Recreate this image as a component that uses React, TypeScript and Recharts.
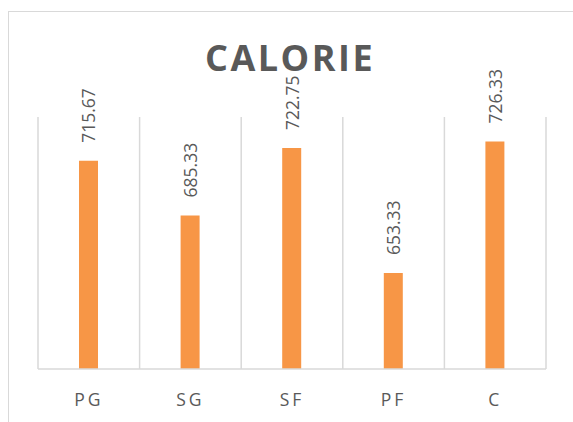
import React from 'react';
import { BarChart, Bar, XAxis, YAxis, CartesianGrid, LabelList } from 'recharts';

const positions = ['PG', 'SG', 'SF', 'PF', 'C'];
const calories = [715.67, 685.33, 722.75, 653.33, 726.33];

const data = positions.map((name, i) => ({ name, calorie: calories[i] }));

const textColor = '#595959';
const font = '"Open Sans", sans-serif';

const PositionTick = (props: any) => {
  const { x, y, payload } = props;
  return (
    <text
      x={x}
      y={y + 29}
      textAnchor="middle"
      fill={textColor}
      fontSize={17.5}
      fontFamily={font}
      letterSpacing={3}
    >
      {payload.value}
    </text>
  );
};

const ValueLabel = (props: any) => {
  const { x, y, width, value } = props;
  const cx = x + width / 2;
  const cy = y - 18;
  return (
    <text
      x={cx}
      y={cy}
      transform={`rotate(-90 ${cx} ${cy})`}
      textAnchor="start"
      dominantBaseline="central"
      fill={textColor}
      fontSize={17.5}
      fontFamily={font}
    >
      {value.toFixed(2)}
    </text>
  );
};

export default function App() {
  return (
    <div
      style={{
        position: 'fixed',
        left: 0,
        top: 0,
        width: 573,
        height: 422,
        overflow: 'hidden',
        background: '#fff',
      }}
    >
      <div
        style={{
          position: 'absolute',
          left: 8,
          top: 11,
          width: 700,
          height: 600,
          border: '1.5px solid #d9d9d9',
        }}
      />
      <div
        style={{
          position: 'absolute',
          left: 0,
          width: 580,
          top: 40,
          textAlign: 'center',
          fontFamily: font,
          fontWeight: 700,
          fontSize: 36,
          lineHeight: '36px',
          letterSpacing: 2.5,
          color: textColor,
        }}
      >
        CALORIE
      </div>
      <BarChart
        width={573}
        height={422}
        data={data}
        margin={{ top: 117, right: 27, left: 38, bottom: 13 }}
        style={{ position: 'absolute', left: 0, top: 0 }}
      >
        <CartesianGrid
          horizontal={false}
          stroke="#d9d9d9"
          strokeWidth={1.5}
          verticalCoordinatesGenerator={({ offset }: any) =>
            positions.map((_, i) => offset.left + (i * offset.width) / positions.length).concat(offset.left + offset.width)
          }
        />
        <XAxis
          dataKey="name"
          height={40}
          axisLine={{ stroke: '#d9d9d9', strokeWidth: 1.5 }}
          tickLine={false}
          tick={<PositionTick />}
          interval={0}
        />
        <YAxis hide domain={[600, 740]} />
        <Bar dataKey="calorie" fill="#F79646" barSize={19} isAnimationActive={false}>
          <LabelList dataKey="calorie" content={<ValueLabel />} />
        </Bar>
      </BarChart>
    </div>
  );
}
